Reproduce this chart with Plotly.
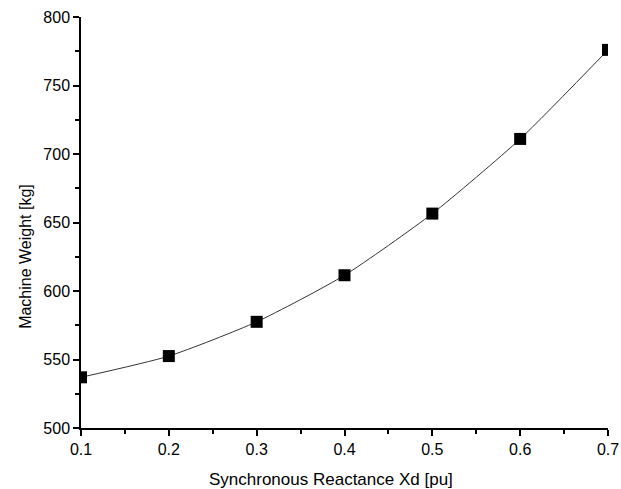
import plotly.graph_objects as go

xd = [0.1, 0.2, 0.3, 0.4, 0.5, 0.6, 0.7]
weight = [537, 552.5, 577.5, 611.5, 656.5, 711, 776]

fig = go.Figure()
fig.add_trace(go.Scatter(
    x=xd, y=weight, mode="lines+markers",
    line=dict(color="#333333", width=1, shape="spline", smoothing=0.6),
    marker=dict(symbol="square", size=12, color="black"),
    cliponaxis=True,
))

axis_common = dict(
    showgrid=False, zeroline=False, showline=True, linecolor="black", linewidth=1.5,
    ticks="outside", ticklen=6, tickwidth=1.5, tickcolor="black", automargin=False,
    tickfont=dict(family="Liberation Sans, Arial, sans-serif", size=16, color="black"),
    minor=dict(ticks="outside", ticklen=4, tickwidth=1.5, tickcolor="black", showgrid=False),
)

fig.update_layout(
    width=621, height=489,
    margin=dict(l=81, r=13, t=17, b=61),
    paper_bgcolor="white", plot_bgcolor="white",
    showlegend=False,
    font=dict(family="Liberation Sans, Arial, sans-serif", color="black"),
    xaxis=dict(range=[0.1, 0.7], dtick=0.1, tick0=0.1, **axis_common),
    yaxis=dict(range=[500, 800], dtick=50, **axis_common),
    annotations=[
        dict(text="Synchronous Reactance Xd [pu]", xref="paper", yref="paper",
             x=0.474, y=-0.1265, xanchor="center", yanchor="middle", showarrow=False,
             font=dict(size=17)),
        dict(text="Machine Weight [kg]", xref="paper", yref="paper",
             x=-0.105, y=0.418, xanchor="center", yanchor="middle", showarrow=False,
             textangle=-90, font=dict(size=16)),
    ],
)
fig.update_xaxes(minor=dict(dtick=0.05))
fig.update_yaxes(minor=dict(dtick=25))

fig.write_html("out.html")
